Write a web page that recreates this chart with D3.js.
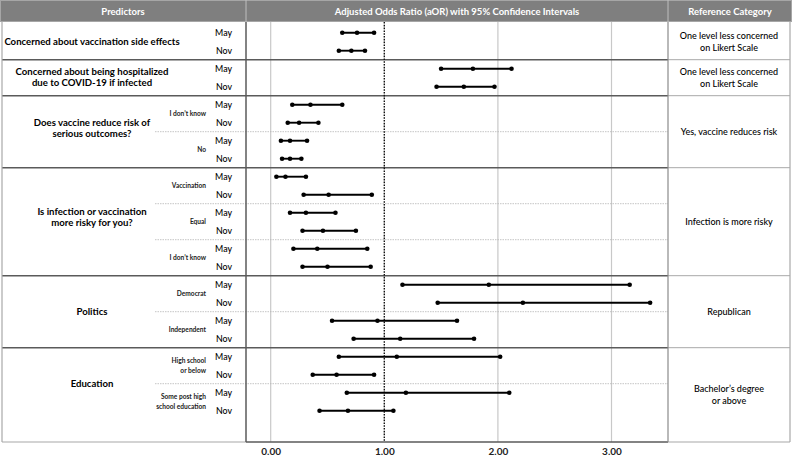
<!DOCTYPE html>
<html><head><meta charset="utf-8">
<script src="https://cdn.jsdelivr.net/npm/d3@7/dist/d3.min.js"></script>
<style>
html,body{margin:0;padding:0;background:#fff;}
svg{display:block;font-family:Lato,"Open Sans",sans-serif;}
</style></head>
<body>
<svg id="chart" width="792" height="460"></svg>
<script>
// ---- data ----
const headers = ["Predictors", "Adjusted Odds Ratio (aOR) with 95% Confidence Intervals", "Reference Category"];
const groupLabels = [
  ["Concerned about vaccination side effects"],
  ["Concerned about being hospitalized", "due to COVID-19 if infected"],
  ["Does vaccine reduce risk of", "serious outcomes?"],
  ["Is infection or vaccination", "more risky for you?"],
  ["Politics"],
  ["Education"]
];
const referenceCategories = [
  ["One level less concerned", "on Likert Scale"],
  ["One level less concerned", "on Likert Scale"],
  ["Yes, vaccine reduces risk"],
  ["Infection is more risky"],
  ["Republican"],
  ["Bachelor’s degree", "or above"]
];
const subLevels = [
  [[]],
  [[]],
  [["I don’t know"], ["No"]],
  [["Vaccination"], ["Equal"], ["I don’t know"]],
  [["Democrat"], ["Independent"]],
  [["High school", "or below"], ["Some post high", "school education"]]
];
const waves = ["May", "Nov"];
const aorLower = [0.63,0.60, 1.50,1.46, 0.19,0.15,0.09,0.10, 0.05,0.29,0.17,0.28,0.20,0.28, 1.16,1.47,0.54,0.73, 0.60,0.37,0.67,0.43];
const aorPoint = [0.76,0.71, 1.78,1.70, 0.35,0.25,0.17,0.17, 0.13,0.51,0.31,0.46,0.41,0.50, 1.92,2.22,0.94,1.14, 1.11,0.58,1.19,0.68];
const aorUpper = [0.91,0.83, 2.12,1.97, 0.63,0.42,0.32,0.27, 0.31,0.89,0.57,0.75,0.85,0.88, 3.16,3.34,1.64,1.79, 2.02,0.91,2.10,1.08];
const tickValues = [0, 1, 2, 3];
const tickLabels = ["0.00", "1.00", "2.00", "3.00"];
const referenceValue = 1;

// ---- layout ----
const W = 792, H = 460;
const colPredEnd = 246, colRefStart = 668;
const tableBottom = 442;
const svg = d3.select("#chart");

const nRows = aorPoint.length;
const x = d3.scaleLinear().domain([0, 3]).range([270.7, 611.5]);
const y = d3.scaleBand().domain(d3.range(nRows)).range([23.7, 419.7]).padding(0);
const bw = y.bandwidth();

// build group / sublevel structure
let rowIdx = 0;
const groups = subLevels.map((subs, gi) => {
  const start = rowIdx;
  const subInfo = subs.map(lines => {
    const s = rowIdx; rowIdx += waves.length;
    return {lines, start: s, end: rowIdx};
  });
  return {gi, start, end: rowIdx, subs: subInfo};
});
function gTop(g){ return y(g.start); }
function gBot(g){ return g.end >= nRows ? tableBottom : y(g.end - 1) + bw; }

// header
svg.append("rect").attr("x",0).attr("y",0).attr("width",W).attr("height",22).attr("fill","#7f7f7f");
svg.append("rect").attr("x",0.5).attr("y",0.5).attr("width",W-1).attr("height",21).attr("fill","none").attr("stroke","#a6a6a6");
[colPredEnd, colRefStart].forEach(cx => svg.append("line").attr("x1",cx).attr("x2",cx).attr("y1",0).attr("y2",22).attr("stroke","#bfbfbf").attr("stroke-width",1));
const hdrX = [123, 457, 730];
headers.forEach((t,i) => svg.append("text").attr("x",hdrX[i]).attr("y",14.8).attr("text-anchor","middle")
  .attr("fill","#fff").attr("font-weight","bold").attr("font-size",9.5).text(t));

// vertical grid lines in chart area
svg.append("g").selectAll("line").data(tickValues.filter(v => v !== referenceValue)).join("line")
  .attr("x1",d=>x(d)).attr("x2",d=>x(d)).attr("y1",22).attr("y2",tableBottom)
  .attr("stroke","#c8c8c8").attr("stroke-width",1.2);

// dashed sublevel separators
groups.forEach(g => {
  g.subs.slice(1).forEach(s => {
    const yy = y(s.start);
    svg.append("line").attr("x1",155).attr("x2",colRefStart).attr("y1",yy).attr("y2",yy)
      .attr("stroke","#b5b5b5").attr("stroke-width",0.8).attr("stroke-dasharray","1.5,1");
  });
});

// group separators
groups.forEach((g, i) => {
  if (i === 0) return;
  const yy = gTop(g);
  svg.append("line").attr("x1",2).attr("x2",colRefStart).attr("y1",yy).attr("y2",yy)
    .attr("stroke","#5a5a5a").attr("stroke-width",1.5);
  svg.append("line").attr("x1",colRefStart).attr("x2",790).attr("y1",yy).attr("y2",yy)
    .attr("stroke","#a8a8a8").attr("stroke-width",1);
});

// outer / column borders
svg.append("line").attr("x1",2).attr("x2",2).attr("y1",22).attr("y2",tableBottom).attr("stroke","#a8a8a8").attr("stroke-width",1.2);
svg.append("line").attr("x1",790).attr("x2",790).attr("y1",22).attr("y2",tableBottom).attr("stroke","#a8a8a8").attr("stroke-width",1.2);
svg.append("line").attr("x1",2).attr("x2",colPredEnd).attr("y1",tableBottom).attr("y2",tableBottom).attr("stroke","#a8a8a8").attr("stroke-width",1.2);
svg.append("line").attr("x1",colRefStart).attr("x2",790).attr("y1",tableBottom).attr("y2",tableBottom).attr("stroke","#a8a8a8").attr("stroke-width",1.2);
svg.append("line").attr("x1",colPredEnd).attr("x2",colRefStart).attr("y1",tableBottom).attr("y2",tableBottom).attr("stroke","#5a5a5a").attr("stroke-width",1.5);
svg.append("line").attr("x1",colPredEnd).attr("x2",colPredEnd).attr("y1",22).attr("y2",tableBottom).attr("stroke","#5a5a5a").attr("stroke-width",1.5);
svg.append("line").attr("x1",colRefStart).attr("x2",colRefStart).attr("y1",22).attr("y2",tableBottom).attr("stroke","#8a8a8a").attr("stroke-width",1.2);

// reference line at aOR = 1
svg.append("line").attr("x1",x(referenceValue)).attr("x2",x(referenceValue)).attr("y1",22).attr("y2",tableBottom)
  .attr("stroke","#111").attr("stroke-width",1.4).attr("stroke-dasharray","1.6,1.2");

// group labels
const groupOffsets = [0, -0.5, -3.5, -5, 0, 0];
groups.forEach((g, i) => {
  const lines = groupLabels[i];
  const cy = (i === groups.length - 1 ? (y(g.start) + y(g.end-1) + bw) / 2 : (gTop(g) + gBot(g)) / 2) + groupOffsets[i];
  const lh = 10.8;
  lines.forEach((t, k) => {
    svg.append("text").attr("x",92).attr("y",cy + (k - (lines.length-1)/2)*lh + 3.4)
      .attr("text-anchor","middle").attr("font-weight","bold").attr("font-size",9.6).attr("fill","#000").text(t);
  });
  // sublevel labels
  g.subs.forEach(s => {
    const scy = (y(s.start) + y(s.end-1) + bw) / 2;
    s.lines.forEach((t, k) => {
      svg.append("text").attr("x",206).attr("y",scy + (k - (s.lines.length-1)/2)*9.5 + 2.3)
        .attr("text-anchor","end").attr("font-weight","bold").attr("font-size",6.6).attr("fill","#222").text(t);
    });
  });
  // reference category
  const rlines = referenceCategories[i];
  const rcy = (gTop(g) + gBot(g)) / 2;
  rlines.forEach((t, k) => {
    svg.append("text").attr("x",729).attr("y",rcy + (k - (rlines.length-1)/2)*12 + 3.3)
      .attr("text-anchor","middle").attr("font-size",9).attr("font-weight",500).attr("fill","#000").text(t);
  });
});

// wave labels
svg.append("g").selectAll("text").data(d3.range(nRows)).join("text")
  .attr("x",232).attr("y",d => y(d) + bw/2 + 3.2).attr("text-anchor","end")
  .attr("font-size",8.8).attr("font-weight",500).attr("fill","#000").text(d => waves[d % waves.length]);

// CI lines and points
const marks = svg.append("g");
marks.selectAll("line").data(d3.range(nRows)).join("line")
  .attr("x1",d=>x(aorLower[d])).attr("x2",d=>x(aorUpper[d]))
  .attr("y1",d=>y(d)+bw/2).attr("y2",d=>y(d)+bw/2)
  .attr("stroke","#000").attr("stroke-width",1.9);
const pts = [];
d3.range(nRows).forEach(d => { pts.push([d, aorLower[d]], [d, aorPoint[d]], [d, aorUpper[d]]); });
marks.selectAll("circle").data(pts).join("circle")
  .attr("cx",p=>x(p[1])).attr("cy",p=>y(p[0])+bw/2).attr("r",2.3).attr("fill","#000");

// axis tick labels
const axis = d3.axisBottom(x).tickValues(tickValues).tickFormat((d,i)=>tickLabels[i]).tickSize(0).tickPadding(0);
const ag = svg.append("g").attr("transform",`translate(0,${tableBottom+3})`).call(axis);
ag.select(".domain").remove();
ag.selectAll("text").attr("font-size",10).attr("font-weight","bold").attr("fill","#222").attr("font-family","Lato,'Open Sans',sans-serif").attr("dy","0.95em");
</script>
</body></html>
